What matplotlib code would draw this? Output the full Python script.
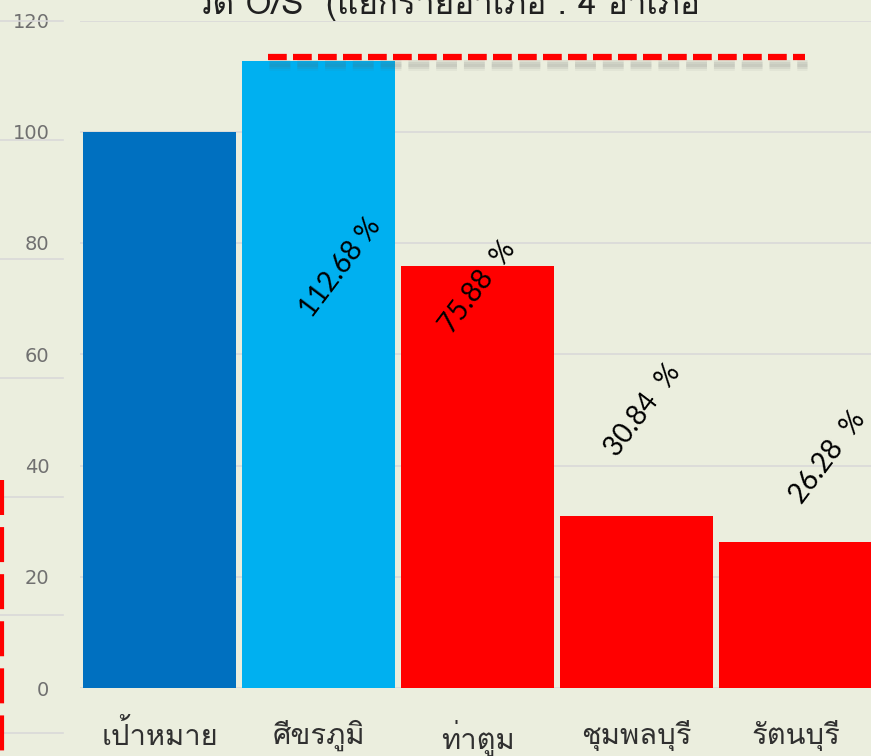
import numpy as np
import matplotlib
matplotlib.use("Agg")
import matplotlib.pyplot as plt
from matplotlib import font_manager
from matplotlib.ft2font import FT2Font
from matplotlib.lines import Line2D

# === Data ===
districts = ["เป้าหมาย", "ศีขรภูมิ", "ท่าตูม", "ชุมพลบุรี", "รัตนบุรี"]
values = [100.0, 112.68, 75.88, 30.84, 26.28]
label_texts = ["", "112.68 %", "75.88  %", "30.84  %", "26.28  %"]
y_ticks = [0, 20, 40, 60, 80, 100, 120]
title_text = "วัด O/S  (แยกรายอำเภอ : 4 อำเภอ"

# === Styles ===
BG = "#EBEEDE"
BAR_COLORS = ["#0070C0", "#00B0F0", "#FF0000", "#FF0000", "#FF0000"]
GRID = "#D9D9D9"
# label anchor (x offset from bar centre, y in data units)
LABEL_POS = [None, (0.14, 75.5), (0.0, 72.0), (0.04, 50.0), (0.2, 41.5)]


def thai_font():
    """First installed font that has Thai glyphs, else DejaVu Sans."""
    for f in font_manager.fontManager.ttflist:
        try:
            if FT2Font(f.fname).get_char_index(0x0E01):
                return f.name
        except Exception:
            continue
    return "DejaVu Sans"


THAI = thai_font()

W, H = 871, 756
fig = plt.figure(figsize=(W / 100, H / 100), dpi=100, facecolor=BG)

# axes placed in pixel terms, right edge runs past the crop
x0, x1 = 80, 875.5
y_top, y_zero = 20.5, 688
ax = fig.add_axes([x0 / W, (H - y_zero) / H, (x1 - x0) / W, (y_zero - y_top) / H])
ax.set_facecolor(BG)

x = np.arange(len(districts))
ax.bar(x, values, width=0.963, color=BAR_COLORS, zorder=3)
ax.set_xlim(-0.5, len(districts) - 0.5)
ax.set_ylim(0, 120)

ax.set_yticks(y_ticks)
ax.set_yticklabels([str(t) for t in y_ticks], color="#707070", fontsize=14)
ax.tick_params(axis="y", length=0, pad=22)
ax.yaxis.grid(True, color=GRID, lw=1.2, zorder=0)
ax.set_xticks(x)
ax.set_xticklabels(districts, family=[THAI, "DejaVu Sans"], fontsize=21,
                   color="#303030")
ax.tick_params(axis="x", length=0, pad=23)
for s in ax.spines.values():
    s.set_visible(False)

# rotated data labels
for i, (txt, pos) in enumerate(zip(label_texts, LABEL_POS)):
    if pos is None:
        continue
    ax.text(i + pos[0], pos[1], txt, rotation=53, rotation_mode="anchor",
            ha="center", va="center", fontsize=20, family="Lato",
            color="black", zorder=5)

# red dashed target line with soft shadow
for off, a in [(1.0, 0.10), (1.4, 0.10), (1.8, 0.06)]:
    ax.plot([0.69, 4.07], [113.4 - off] * 2, color="#606060", lw=5, alpha=a,
            ls=(0, (3, 1)), zorder=4, dash_capstyle="butt")
ax.plot([0.68, 4.06], [113.4, 113.4], color="#FF0000", lw=4.5,
        ls=(0, (3, 1)), zorder=5, dash_capstyle="butt")

# title, cropped at the top
fig.text(447 / W, 1 - 4 / H, title_text, ha="center", va="center",
         fontsize=24, family=[THAI, "DejaVu Sans"], color="#202020")

# left margin remnants: short grid lines and red dashed edge
for yp in [21, 140, 259, 378, 497, 615, 733]:
    fig.add_artist(Line2D([0, 63 / W], [1 - yp / H] * 2, color=GRID, lw=1.2))
fig.add_artist(Line2D([1.5 / W] * 2, [1 - 480 / H, 0], color="#FF0000", lw=3,
                      ls=(0, (8.4, 2.9))))

fig.savefig("out.png", dpi=100, facecolor=BG)
